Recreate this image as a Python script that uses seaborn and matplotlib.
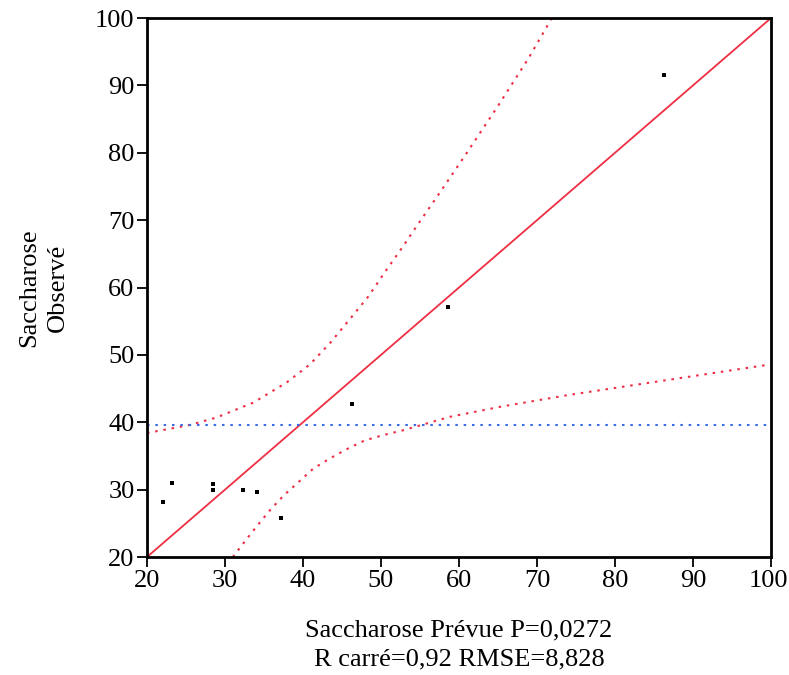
import pandas as pd
import seaborn as sns
import matplotlib.pyplot as plt
from matplotlib.transforms import ScaledTranslation

# points: predicted vs observed
prevue = [22.1, 23.2, 28.5, 28.5, 32.3, 34.1, 37.2, 46.3, 58.6, 86.3]
observe = [28.2, 31.0, 30.8, 29.9, 29.9, 29.6, 25.8, 42.7, 57.1, 91.5]

# confidence curves
haut_x = [20, 25.5, 28.9, 33.6, 37.9, 40.9, 43.5, 46.0, 48.4, 50.5, 52.7, 54.8,
          56.9, 60.6, 64.8, 68.9, 71.9]
haut_y = [38.4, 39.6, 40.7, 42.9, 45.9, 48.6, 51.8, 55.3, 58.7, 62.3, 65.9, 69.5,
          73.0, 79.3, 86.6, 94.0, 100]
bas_x = [31.0, 32.6, 34.1, 35.8, 37.5, 39.4, 41.3, 43.4, 45.6, 47.9, 50.3, 52.8,
         58.8, 65.3, 73.8, 82.3, 90.3, 100]
bas_y = [20.0, 22.4, 24.6, 27.0, 29.1, 31.1, 33.1, 34.6, 36.0, 37.3, 38.1, 38.8,
         40.8, 42.3, 44.0, 45.5, 46.9, 48.6]

ligne = [20, 100]
moyenne = 39.6

sns.set_style('ticks')
plt.rcParams['font.family'] = ['Liberation Serif', 'DejaVu Serif']
plt.rcParams['text.color'] = 'black'
plt.rcParams['axes.labelcolor'] = 'black'

fig = plt.figure(figsize=(7.89, 6.75), dpi=100)
ax = fig.add_axes([0.1863, 0.1748, 0.7909, 0.7985])

rouge = '#ee2e43'
bleu = '#3a6be8'
pointille = (0, (1.2, 2.8))

ax.plot(ligne, ligne, color=rouge, lw=1.3)
sns.lineplot(x=haut_x, y=haut_y, sort=False, color=rouge, lw=1.5,
             linestyle=pointille, ax=ax)
sns.lineplot(x=bas_x, y=bas_y, sort=False, color=rouge, lw=1.5,
             linestyle=pointille, ax=ax)
ax.axhline(moyenne, color=bleu, lw=1.5, linestyle=pointille)

df = pd.DataFrame({'prevue': prevue, 'observe': observe})
sns.scatterplot(data=df, x='prevue', y='observe', marker='s', s=9,
                color='black', edgecolor='black', linewidth=0, ax=ax, zorder=5)

ax.set_xlim(20, 100)
ax.set_ylim(20, 100)
ax.set_xticks(range(20, 101, 10))
ax.set_yticks(range(20, 101, 10))
ax.tick_params(direction='out', length=7, width=1.3, labelsize=19,
               colors='black', labelcolor='black', pad=2)
for s in ax.spines.values():
    s.set_linewidth(2)
    s.set_color('black')

# keep the last x label inside the figure edge
dernier = ax.get_xticklabels()[-1]
dernier.set_transform(dernier.get_transform()
                      + ScaledTranslation(-3 / 100, 0, fig.dpi_scale_trans))

ax.set_xlabel('Saccharose Prévue P=0,0272\nR carré=0,92 RMSE=8,828',
              fontsize=19, labelpad=20, linespacing=1.4, color='black')
ax.set_ylabel('Saccharose\nObservé', fontsize=19, labelpad=19,
              linespacing=1.4, color='black')

plt.savefig('out.png', dpi=100)
plt.close()
